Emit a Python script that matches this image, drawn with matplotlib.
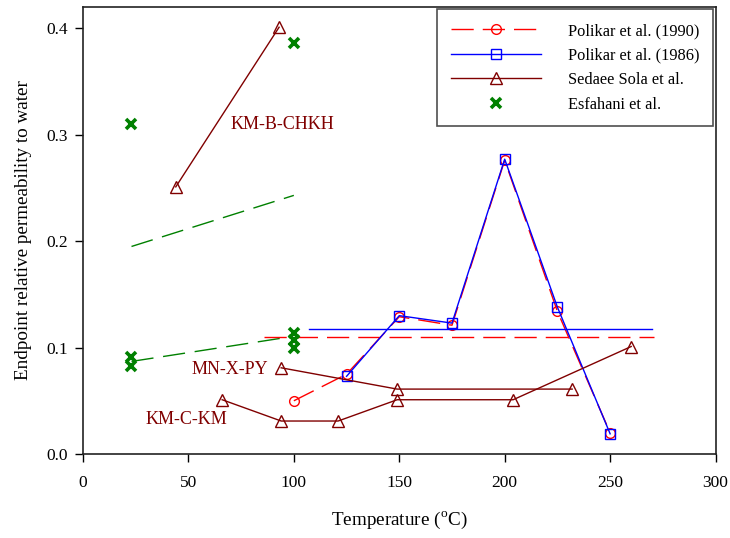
import matplotlib.pyplot as plt

plt.rcParams['font.family'] = ['Liberation Serif', 'DejaVu Serif']
plt.rcParams['mathtext.fontset'] = 'custom'
plt.rcParams['mathtext.rm'] = 'Liberation Serif'

# Polikar et al. (1990)
pol90_t = [100, 125, 150, 175, 200, 225, 250]
pol90_k = [0.050, 0.075, 0.129, 0.121, 0.276, 0.134, 0.020]
pol90_avg_t = [86, 271]
pol90_avg_k = [0.110, 0.110]

# Polikar et al. (1986)
pol86_t = [125, 150, 175, 200, 225, 250]
pol86_k = [0.073, 0.130, 0.123, 0.277, 0.138, 0.019]
pol86_avg_t = [107, 270]
pol86_avg_k = [0.117, 0.117]

# Sedaee Sola et al., three rock types
kmb_t = [44, 93]
kmb_k = [0.251, 0.401]
mnx_t = [94, 149, 232]
mnx_k = [0.081, 0.061, 0.061]
kmc_t = [66, 94, 121, 149, 204, 260]
kmc_k = [0.051, 0.031, 0.031, 0.051, 0.051, 0.101]

# Esfahani et al.
esf_t = [23, 100, 23, 23, 100, 100, 100]
esf_k = [0.310, 0.386, 0.091, 0.083, 0.114, 0.107, 0.100]
esf_fit1_t = [23, 100]
esf_fit1_k = [0.195, 0.243]
esf_fit2_t = [23, 98]
esf_fit2_k = [0.087, 0.110]

red = '#ff0000'
blue = '#0000ff'
maroon = '#800000'
green = '#008000'

fig = plt.figure(figsize=(7.3, 5.38), dpi=100)
ax = fig.add_axes([0.1137, 0.1561, 0.8665, 0.8309])

ax.plot(esf_fit1_t, esf_fit1_k, color=green, lw=1, dashes=(16, 7))
ax.plot(esf_fit2_t, esf_fit2_k, color=green, lw=1, dashes=(16, 7))

ax.plot(pol90_t, pol90_k, color=red, lw=1, dashes=(16, 6.5), marker='o',
        ms=7, mfc='none', mec=red, label='Polikar et al. (1990)')
ax.plot(pol90_avg_t, pol90_avg_k, color=red, lw=1, dashes=(16, 6.5))

ax.plot(pol86_t, pol86_k, color=blue, lw=1, marker='s', ms=7.5, mfc='none',
        mec=blue, label='Polikar et al. (1986)')
ax.plot(pol86_avg_t, pol86_avg_k, color=blue, lw=1)

ax.plot(kmb_t, kmb_k, color=maroon, lw=1, marker='^', ms=8.5, mfc='none',
        mec=maroon, label='Sedaee Sola et al.')
ax.plot(mnx_t, mnx_k, color=maroon, lw=1, marker='^', ms=8.5, mfc='none', mec=maroon)
ax.plot(kmc_t, kmc_k, color=maroon, lw=1, marker='^', ms=8.5, mfc='none', mec=maroon)

ax.plot(esf_t, esf_k, ls='none', marker='x', ms=7, mew=2.6, color=green,
        label='Esfahani et al.')

ax.text(94.5, 0.310, 'KM-B-CHKH', color=maroon, fontsize=13, ha='center', va='center')
ax.text(88, 0.079, 'MN-X-PY', color=maroon, fontsize=13, ha='right', va='center')
ax.text(49, 0.032, 'KM-C-KM', color=maroon, fontsize=13, ha='center', va='center')

ax.set_xlim(0, 300)
ax.set_ylim(0, 0.42)
ax.set_xticks([0, 50, 100, 150, 200, 250, 300])
ax.set_yticks([0.0, 0.1, 0.2, 0.3, 0.4])
ax.set_yticklabels(['0.0', '0.1', '0.2', '0.3', '0.4'])
ax.tick_params(direction='out', length=6, width=1, labelsize=12.5)
ax.tick_params(axis='x', pad=9)
ax.tick_params(axis='y', pad=5)
for s in ax.spines.values():
    s.set_linewidth(1.2)
    s.set_color('#222222')

ax.set_xlabel(r'Temperature ($^{\mathrm{o}}$C)', fontsize=13.8, labelpad=14)
ax.set_ylabel('Endpoint relative permeability to water', fontsize=13.8, labelpad=10)

leg = ax.legend(loc='upper right', fontsize=11.8, handlelength=5.5, handletextpad=1.6,
                labelspacing=0.52, borderpad=0.85, borderaxespad=0, fancybox=False,
                bbox_to_anchor=(0.996, 0.9955))
leg.get_frame().set_edgecolor('#222222')
leg.get_frame().set_linewidth(1.2)

fig.savefig('out.png', dpi=100)
